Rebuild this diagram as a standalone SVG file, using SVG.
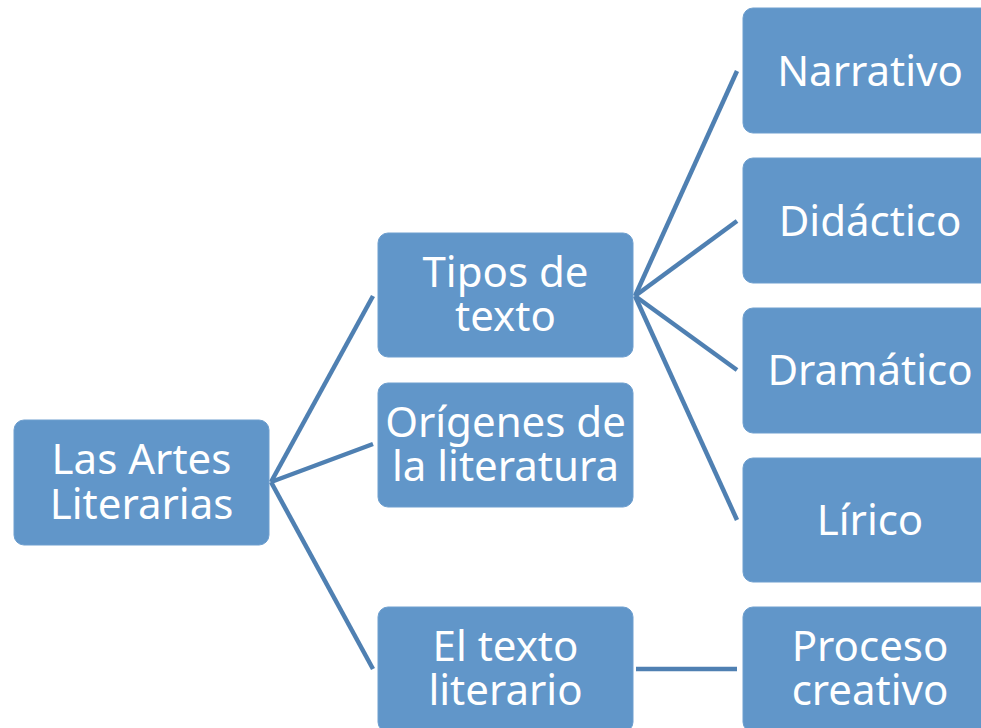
<svg xmlns="http://www.w3.org/2000/svg" width="981" height="728" viewBox="0 0 981 728">
<style>
.box{fill:#6196C9;stroke:#6E9FCF;stroke-width:1}
.t{font-family:"Noto Sans","Open Sans",sans-serif;font-size:42px;fill:#fff;text-anchor:middle}
.c{stroke:#4F80B2;stroke-width:4.5;fill:none}
</style>
<rect width="981" height="728" fill="#fff"/>
<g id="connectors">
<line class="c" x1="271" y1="482" x2="373" y2="296"/>
<line class="c" x1="271" y1="482" x2="373" y2="444"/>
<line class="c" x1="271" y1="482" x2="373" y2="669"/>
<line class="c" x1="635" y1="296" x2="737" y2="71"/>
<line class="c" x1="635" y1="296" x2="737" y2="221"/>
<line class="c" x1="635" y1="296" x2="737" y2="370"/>
<line class="c" x1="635" y1="296" x2="737" y2="520"/>
<line class="c" x1="636" y1="669" x2="737" y2="669"/>
</g>
<g id="root"><rect class="box" x="14" y="420" width="255" height="125" rx="10"/><text class="t" x="141.5" y="474">Las Artes</text><text class="t" x="141.5" y="519">Literarias</text></g>
<g id="tipos"><rect class="box" x="378" y="233" width="255" height="124" rx="10"/><text class="t" x="505.5" y="287">Tipos de</text><text class="t" x="505.5" y="331">texto</text></g>
<g id="origenes"><rect class="box" x="378" y="383" width="255" height="124" rx="10"/><text class="t" x="505.5" y="437">Orígenes de</text><text class="t" x="505.5" y="481">la literatura</text></g>
<g id="eltexto"><rect class="box" x="378" y="607" width="255" height="125" rx="10"/><text class="t" x="505.5" y="661">El texto</text><text class="t" x="505.5" y="705">literario</text></g>
<g id="narrativo"><rect class="box" x="743" y="8" width="255" height="125" rx="10"/><text class="t" x="870" y="86">Narrativo</text></g>
<g id="didactico"><rect class="box" x="743" y="158" width="255" height="125" rx="10"/><text class="t" x="870" y="236">Didáctico</text></g>
<g id="dramatico"><rect class="box" x="743" y="308" width="255" height="125" rx="10"/><text class="t" x="870" y="385">Dramático</text></g>
<g id="lirico"><rect class="box" x="743" y="458" width="255" height="124" rx="10"/><text class="t" x="870" y="535">Lírico</text></g>
<g id="proceso"><rect class="box" x="743" y="607" width="255" height="125" rx="10"/><text class="t" x="870" y="661">Proceso</text><text class="t" x="870" y="705">creativo</text></g>
</svg>
